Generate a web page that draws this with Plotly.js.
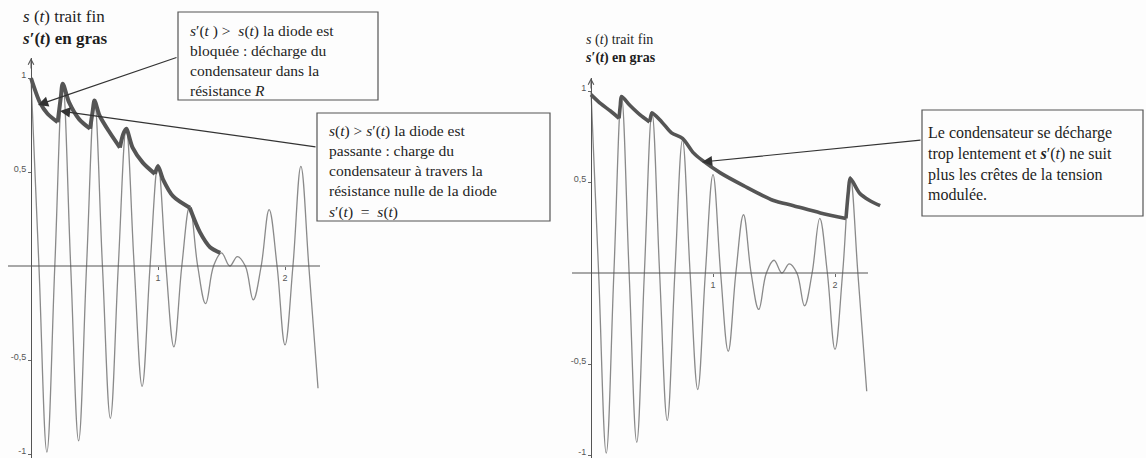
<!DOCTYPE html>
<html>
<head>
<meta charset="utf-8">
<script src="https://cdn.plot.ly/plotly-3.0.1.min.js"></script>
<style>
html,body{margin:0;padding:0;background:#fdfdfd;}
#chart{width:1146px;height:458px;}
</style>
</head>
<body>
<div id="chart"></div>
<script>
// ---------- data ----------
// s(t): modulated voltage (carrier peaks, troughs and zero crossings)
const tSignal = [0, 0.0625, 0.125, 0.1875, 0.25, 0.3125, 0.375, 0.4375, 0.5, 0.5625, 0.625, 0.6875, 0.75, 0.8125, 0.875, 0.9375, 1.0, 1.0625, 1.125, 1.1875, 1.25, 1.3125, 1.375, 1.4375, 1.5, 1.565, 1.625, 1.6875, 1.75, 1.8125, 1.875, 1.9375, 2.0, 2.0625, 2.125, 2.1875, 2.26];
const sSignal = [1.0, 0, -0.99, 0, 0.97, 0, -0.93, 0, 0.88, 0, -0.81, 0, 0.73, 0, -0.64, 0, 0.54, 0, -0.43, 0, 0.32, 0, -0.20, 0, 0.07, 0, 0.05, 0, -0.18, 0, 0.30, 0, -0.42, 0, 0.53, 0, -0.65];

// s'(t) left panel (well chosen RC): charge / discharge pieces (null = cusp)
const tDetectLeft = [0, 0.07, 0.13, 0.21, null,
  0.21, 0.235, 0.25, 0.30, 0.38, 0.465, null,
  0.465, 0.485, 0.5, 0.54, 0.62, 0.70, null,
  0.70, 0.725, 0.75, 0.80, 0.88, 0.976, null,
  0.976, 1.0, 1.04, 1.12, 1.25, null,
  1.25, 1.33, 1.41, 1.49];
const sDetectLeft = [1.0, 0.87, 0.81, 0.765, null,
  0.765, 0.90, 0.97, 0.87, 0.78, 0.73, null,
  0.73, 0.82, 0.88, 0.80, 0.71, 0.63, null,
  0.63, 0.70, 0.73, 0.63, 0.55, 0.49, null,
  0.49, 0.53, 0.46, 0.37, 0.31, null,
  0.31, 0.18, 0.10, 0.07];

// s'(t) right panel (RC too large)
const tDetectRight = [0, 0.08, 0.16, 0.23, null,
  0.23, 0.24, 0.25, 0.32, 0.40, 0.48, null,
  0.48, 0.49, 0.5, 0.58, 0.66, 0.75, 0.84, 0.91, 1.06, 1.25, 1.49, 1.66, 1.88, 2.09, null,
  2.09, 2.11, 2.125, 2.2, 2.28, 2.37];
const sDetectRight = [0.98, 0.93, 0.89, 0.85, null,
  0.85, 0.92, 0.97, 0.92, 0.87, 0.83, null,
  0.83, 0.86, 0.88, 0.83, 0.77, 0.74, 0.66, 0.62, 0.55, 0.48, 0.40, 0.37, 0.33, 0.30, null,
  0.30, 0.45, 0.52, 0.44, 0.40, 0.37];

// tick labels
const xTickVals = [1, 2];
const xTickText = ['1', '2'];
const yTickVals = [-1, -0.5, 0.5, 1];
const yTickText = ['-1', '-0,5', '0,5', '1'];

// ---------- layout helpers (pixel geometry of the page) ----------
const W = 1146, H = 458;
const px = x => x / W;
const py = y => 1 - y / H;

// left panel frame
const L = {x0: 31, sx: 127, left: 8, right: 320, y0: 266, sy: 188, top: 58, bottom: 458};
// right panel frame
const R = {x0: 591, sx: 122, left: 572, right: 886, lineEnd: 868, y0: 273, sy: 182, top: 78, bottom: 458};

function xr(f, a, b) { return [(a - f.x0) / f.sx, (b - f.x0) / f.sx]; }
function yr(f) { return [(f.y0 - f.bottom) / f.sy, (f.y0 - f.top) / f.sy]; }

const serif = 'Liberation Serif, Times New Roman, serif';
const tickFont = {family: 'Liberation Sans, Arial, sans-serif', size: 9, color: '#555'};
const inkThin = '#8a8a8a', inkBold = '#555555', inkAxis = '#555', inkText = '#1e1e1e';

function xAxis(f) {
  return {
    domain: [px(f.left), px(f.right)], range: xr(f, f.left, f.right),
    anchor: 'free', position: py(f.y0),
    showgrid: false, zeroline: false, showline: false,
    ticks: 'outside', ticklen: 3, tickcolor: '#666', tickwidth: 1,
    tickmode: 'array', tickvals: xTickVals, ticktext: xTickText, tickfont: tickFont,
    fixedrange: true
  };
}
function yAxis(f) {
  return {
    domain: [py(f.bottom), py(f.top)], range: yr(f),
    anchor: 'free', position: px(f.x0),
    showgrid: false, zeroline: false, showline: true, linecolor: inkAxis, linewidth: 1,
    ticks: 'outside', ticklen: 3, tickcolor: '#666', tickwidth: 1,
    tickmode: 'array', tickvals: yTickVals, ticktext: yTickText, tickfont: tickFont,
    ticklabelshift: -3, ticklabeloverflow: 'allow',
    fixedrange: true
  };
}

const traces = [
  {x: tSignal, y: sSignal, xaxis: 'x', yaxis: 'y', mode: 'lines', line: {color: inkThin, width: 1.3, shape: 'spline', smoothing: 1.1}, hoverinfo: 'skip'},
  {x: tDetectLeft, y: sDetectLeft, xaxis: 'x', yaxis: 'y', mode: 'lines', connectgaps: false, line: {color: inkBold, width: 4, shape: 'spline', smoothing: 0.8}, hoverinfo: 'skip'},
  {x: tSignal, y: sSignal, xaxis: 'x2', yaxis: 'y2', mode: 'lines', line: {color: inkThin, width: 1.3, shape: 'spline', smoothing: 1.1}, hoverinfo: 'skip'},
  {x: tDetectRight, y: sDetectRight, xaxis: 'x2', yaxis: 'y2', mode: 'lines', connectgaps: false, line: {color: inkBold, width: 3.6, shape: 'spline', smoothing: 0.8}, hoverinfo: 'skip'}
];

const S = '<i>s</i>', T = '<i>t</i>', NB = '\u00A0';

const box = (x0, y0, x1, y1) => ({type: 'rect', xref: 'paper', yref: 'paper', x0: px(x0), x1: px(x1), y0: py(y1), y1: py(y0), line: {color: '#555', width: 1.2}, fillcolor: 'rgba(255,255,255,0)'});

const shapes = [
  // x axes (horizontal lines through 0)
  {type: 'line', xref: 'x', yref: 'y', x0: xr(L, L.left, L.right)[0], x1: xr(L, L.left, L.right)[1], y0: 0, y1: 0, line: {color: inkAxis, width: 1.2}},
  {type: 'line', xref: 'x2', yref: 'y2', x0: xr(R, R.left, R.lineEnd)[0], x1: xr(R, R.left, R.lineEnd)[1], y0: 0, y1: 0, line: {color: inkAxis, width: 1.2}},
  box(178, 12, 378, 100),
  box(317, 113, 550, 221),
  box(922, 110, 1143, 216)
];

const txt = (x, y, text, size) => ({xref: 'paper', yref: 'paper', x: px(x), y: py(y), xanchor: 'left', yanchor: 'top', align: 'left', showarrow: false, text: text, font: {family: serif, size: size, color: inkText}});
const arrow = (hx, hy, tx, ty) => ({xref: 'paper', yref: 'paper', x: px(hx), y: py(hy), ax: tx - hx, ay: ty - hy, text: '', showarrow: true, arrowhead: 2, arrowsize: 1.7, arrowwidth: 1.2, arrowcolor: '#333'});
const axisHead = (xa, f) => ({xref: xa, yref: 'paper', x: 0, y: py(f.top), ax: 0, ay: 12, text: '', showarrow: true, arrowhead: 5, arrowsize: 1.1, arrowwidth: 1, arrowcolor: inkAxis});

const annotations = [
  txt(20, 5, `${S} (${T}) trait fin<br><b>${S}′(${T}) en gras</b>`, 17),
  txt(583, 30, `${S} (${T}) trait fin<br><b>${S}′(${T}) en gras</b>`, 14),
  txt(188, 20, `${S}′(${T}${NB})${NB}&gt;${NB}${NB}${S}(${T}) la diode est<br>bloquée : décharge du<br>condensateur dans la<br>résistance <i>R</i>`, 15.5),
  txt(327, 120, `${S}(${T})${NB}&gt;${NB}${S}′(${T}) la diode est<br>passante : charge du<br>condensateur à travers la<br>résistance nulle de la diode<br>${S}′(${T})${NB}${NB}=${NB}${NB}${S}(${T})`, 15.5),
  txt(926, 122, `Le condensateur se décharge<br>trop lentement et <b>${S}</b>′(${T}) ne suit<br>plus les crêtes de la tension<br>modulée.`, 16),
  arrow(38, 105, 178, 57),
  arrow(60, 111, 317, 147),
  arrow(702, 162, 922, 140),
  axisHead('x', L),
  axisHead('x2', R)
];

const layout = {
  width: W, height: H,
  margin: {l: 0, r: 0, t: 0, b: 0, pad: 0},
  paper_bgcolor: '#fdfdfd', plot_bgcolor: 'rgba(0,0,0,0)',
  showlegend: false,
  font: {family: serif, color: inkText},
  xaxis: xAxis(L), yaxis: yAxis(L),
  xaxis2: xAxis(R), yaxis2: yAxis(R),
  shapes: shapes,
  annotations: annotations
};

Plotly.newPlot('chart', traces, layout, {displayModeBar: false, staticPlot: true});
</script>
</body>
</html>
